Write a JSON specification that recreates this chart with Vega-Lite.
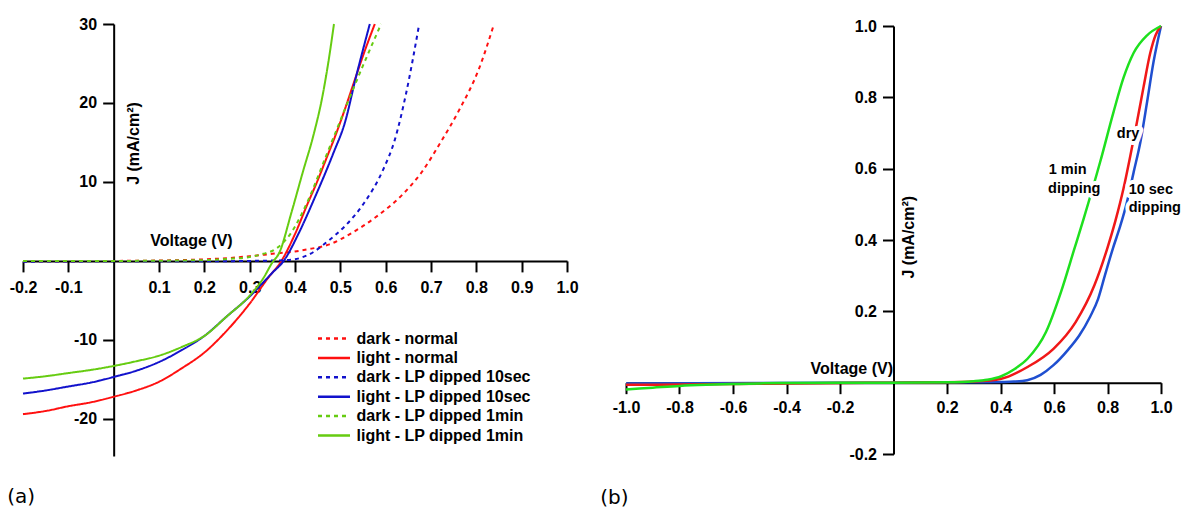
{
  "$schema": "https://vega.github.io/schema/vega-lite/v6.json",
  "background": "white",
  "padding": {"left": 7, "top": 16, "right": 0, "bottom": 20},
  "bounds": "flush",
  "center": true,
  "spacing": 59,
  "resolve": {
    "scale": {"color": "independent", "strokeDash": "independent"},
    "legend": {"color": "independent", "strokeDash": "independent"}
  },
  "config": {
    "view": {"stroke": null},
    "font": "Liberation Sans",
    "axis": {
      "grid": false,
      "domainColor": "black",
      "domainWidth": 2,
      "tickColor": "black",
      "tickWidth": 2,
      "tickSize": 11,
      "labelFont": "Liberation Sans",
      "labelFontWeight": "bold",
      "labelFontSize": 16,
      "labelColor": "black",
      "labelFlush": false,
      "labelOverlap": false,
      "labelBound": false,
      "labelExpr": "replace(datum.label, '\u2212', '-')",
      "titleFont": "Liberation Sans",
      "titleFontWeight": "bold",
      "titleFontSize": 16,
      "titleColor": "black"
    }
  },
  "datasets": {
    "a": [
      {"series": "dark - normal", "V": -0.2, "J": -0.05},
      {"series": "dark - normal", "V": 0.0, "J": 0.0},
      {"series": "dark - normal", "V": 0.1, "J": 0.05},
      {"series": "dark - normal", "V": 0.2, "J": 0.2},
      {"series": "dark - normal", "V": 0.25, "J": 0.35},
      {"series": "dark - normal", "V": 0.3, "J": 0.6},
      {"series": "dark - normal", "V": 0.35, "J": 0.9},
      {"series": "dark - normal", "V": 0.4, "J": 1.2},
      {"series": "dark - normal", "V": 0.426, "J": 1.45},
      {"series": "dark - normal", "V": 0.476, "J": 2.1},
      {"series": "dark - normal", "V": 0.527, "J": 3.6},
      {"series": "dark - normal", "V": 0.577, "J": 5.5},
      {"series": "dark - normal", "V": 0.637, "J": 8.4},
      {"series": "dark - normal", "V": 0.679, "J": 11.2},
      {"series": "dark - normal", "V": 0.721, "J": 15.0},
      {"series": "dark - normal", "V": 0.763, "J": 19.2},
      {"series": "dark - normal", "V": 0.805, "J": 24.2},
      {"series": "dark - normal", "V": 0.839, "J": 30.0},

      {"series": "light - normal", "V": -0.2, "J": -19.4},
      {"series": "light - normal", "V": -0.15, "J": -19.0},
      {"series": "light - normal", "V": -0.1, "J": -18.4},
      {"series": "light - normal", "V": -0.05, "J": -17.9},
      {"series": "light - normal", "V": 0.0, "J": -17.2},
      {"series": "light - normal", "V": 0.05, "J": -16.4},
      {"series": "light - normal", "V": 0.1, "J": -15.3},
      {"series": "light - normal", "V": 0.15, "J": -13.6},
      {"series": "light - normal", "V": 0.2, "J": -11.6},
      {"series": "light - normal", "V": 0.25, "J": -8.8},
      {"series": "light - normal", "V": 0.3, "J": -5.4},
      {"series": "light - normal", "V": 0.34, "J": -2.2},
      {"series": "light - normal", "V": 0.37, "J": 0.0},
      {"series": "light - normal", "V": 0.4, "J": 3.4},
      {"series": "light - normal", "V": 0.426, "J": 7.0},
      {"series": "light - normal", "V": 0.45, "J": 10.2},
      {"series": "light - normal", "V": 0.468, "J": 12.8},
      {"series": "light - normal", "V": 0.49, "J": 16.0},
      {"series": "light - normal", "V": 0.51, "J": 19.2},
      {"series": "light - normal", "V": 0.53, "J": 22.6},
      {"series": "light - normal", "V": 0.552, "J": 26.3},
      {"series": "light - normal", "V": 0.576, "J": 30.0},

      {"series": "dark - LP dipped 10sec", "V": -0.2, "J": -0.1},
      {"series": "dark - LP dipped 10sec", "V": 0.0, "J": -0.05},
      {"series": "dark - LP dipped 10sec", "V": 0.2, "J": -0.05},
      {"series": "dark - LP dipped 10sec", "V": 0.3, "J": 0.0},
      {"series": "dark - LP dipped 10sec", "V": 0.35, "J": 0.05},
      {"series": "dark - LP dipped 10sec", "V": 0.38, "J": 0.1},
      {"series": "dark - LP dipped 10sec", "V": 0.41, "J": 0.35},
      {"series": "dark - LP dipped 10sec", "V": 0.44, "J": 1.1},
      {"series": "dark - LP dipped 10sec", "V": 0.468, "J": 2.3},
      {"series": "dark - LP dipped 10sec", "V": 0.51, "J": 4.4},
      {"series": "dark - LP dipped 10sec", "V": 0.552, "J": 7.3},
      {"series": "dark - LP dipped 10sec", "V": 0.594, "J": 11.5},
      {"series": "dark - LP dipped 10sec", "V": 0.62, "J": 15.3},
      {"series": "dark - LP dipped 10sec", "V": 0.645, "J": 21.2},
      {"series": "dark - LP dipped 10sec", "V": 0.674, "J": 30.0},

      {"series": "light - LP dipped 10sec", "V": -0.2, "J": -16.8},
      {"series": "light - LP dipped 10sec", "V": -0.15, "J": -16.4},
      {"series": "light - LP dipped 10sec", "V": -0.1, "J": -15.9},
      {"series": "light - LP dipped 10sec", "V": -0.05, "J": -15.4},
      {"series": "light - LP dipped 10sec", "V": 0.0, "J": -14.7},
      {"series": "light - LP dipped 10sec", "V": 0.05, "J": -13.9},
      {"series": "light - LP dipped 10sec", "V": 0.1, "J": -12.8},
      {"series": "light - LP dipped 10sec", "V": 0.15, "J": -11.3},
      {"series": "light - LP dipped 10sec", "V": 0.2, "J": -9.5},
      {"series": "light - LP dipped 10sec", "V": 0.25, "J": -7.0},
      {"series": "light - LP dipped 10sec", "V": 0.3, "J": -4.5},
      {"series": "light - LP dipped 10sec", "V": 0.35, "J": -1.5},
      {"series": "light - LP dipped 10sec", "V": 0.375, "J": 0.0},
      {"series": "light - LP dipped 10sec", "V": 0.409, "J": 3.6},
      {"series": "light - LP dipped 10sec", "V": 0.442, "J": 7.8},
      {"series": "light - LP dipped 10sec", "V": 0.485, "J": 13.7},
      {"series": "light - LP dipped 10sec", "V": 0.51, "J": 17.5},
      {"series": "light - LP dipped 10sec", "V": 0.535, "J": 23.4},
      {"series": "light - LP dipped 10sec", "V": 0.565, "J": 30.0},

      {"series": "dark - LP dipped 1min", "V": -0.2, "J": 0.0},
      {"series": "dark - LP dipped 1min", "V": 0.0, "J": 0.0},
      {"series": "dark - LP dipped 1min", "V": 0.2, "J": 0.1},
      {"series": "dark - LP dipped 1min", "V": 0.25, "J": 0.25},
      {"series": "dark - LP dipped 1min", "V": 0.3, "J": 0.5},
      {"series": "dark - LP dipped 1min", "V": 0.33, "J": 0.9},
      {"series": "dark - LP dipped 1min", "V": 0.354, "J": 1.4},
      {"series": "dark - LP dipped 1min", "V": 0.392, "J": 3.6},
      {"series": "dark - LP dipped 1min", "V": 0.426, "J": 7.3},
      {"series": "dark - LP dipped 1min", "V": 0.468, "J": 13.2},
      {"series": "dark - LP dipped 1min", "V": 0.51, "J": 19.2},
      {"series": "dark - LP dipped 1min", "V": 0.552, "J": 25.0},
      {"series": "dark - LP dipped 1min", "V": 0.59, "J": 30.0},

      {"series": "light - LP dipped 1min", "V": -0.2, "J": -14.9},
      {"series": "light - LP dipped 1min", "V": -0.15, "J": -14.6},
      {"series": "light - LP dipped 1min", "V": -0.1, "J": -14.2},
      {"series": "light - LP dipped 1min", "V": -0.05, "J": -13.8},
      {"series": "light - LP dipped 1min", "V": 0.0, "J": -13.3},
      {"series": "light - LP dipped 1min", "V": 0.05, "J": -12.7},
      {"series": "light - LP dipped 1min", "V": 0.1, "J": -12.0},
      {"series": "light - LP dipped 1min", "V": 0.15, "J": -10.9},
      {"series": "light - LP dipped 1min", "V": 0.2, "J": -9.5},
      {"series": "light - LP dipped 1min", "V": 0.25, "J": -7.0},
      {"series": "light - LP dipped 1min", "V": 0.3, "J": -4.4},
      {"series": "light - LP dipped 1min", "V": 0.33, "J": -2.2},
      {"series": "light - LP dipped 1min", "V": 0.35, "J": -0.2},
      {"series": "light - LP dipped 1min", "V": 0.365, "J": 1.0},
      {"series": "light - LP dipped 1min", "V": 0.392, "J": 6.1},
      {"series": "light - LP dipped 1min", "V": 0.417, "J": 11.2},
      {"series": "light - LP dipped 1min", "V": 0.442, "J": 16.2},
      {"series": "light - LP dipped 1min", "V": 0.459, "J": 20.4},
      {"series": "light - LP dipped 1min", "V": 0.472, "J": 24.6},
      {"series": "light - LP dipped 1min", "V": 0.486, "J": 30.0}
    ],
    "b": [
      {"series": "10 sec dipping", "V": -1.0, "J": -0.002},
      {"series": "10 sec dipping", "V": -0.5, "J": -0.001},
      {"series": "10 sec dipping", "V": 0.0, "J": 0.0},
      {"series": "10 sec dipping", "V": 0.3, "J": 0.001},
      {"series": "10 sec dipping", "V": 0.4, "J": 0.002},
      {"series": "10 sec dipping", "V": 0.45, "J": 0.003},
      {"series": "10 sec dipping", "V": 0.5, "J": 0.007},
      {"series": "10 sec dipping", "V": 0.55, "J": 0.022},
      {"series": "10 sec dipping", "V": 0.598, "J": 0.049},
      {"series": "10 sec dipping", "V": 0.65, "J": 0.09},
      {"series": "10 sec dipping", "V": 0.695, "J": 0.133},
      {"series": "10 sec dipping", "V": 0.735, "J": 0.185},
      {"series": "10 sec dipping", "V": 0.765, "J": 0.235},
      {"series": "10 sec dipping", "V": 0.79, "J": 0.3},
      {"series": "10 sec dipping", "V": 0.82, "J": 0.376},
      {"series": "10 sec dipping", "V": 0.848, "J": 0.44},
      {"series": "10 sec dipping", "V": 0.873, "J": 0.507},
      {"series": "10 sec dipping", "V": 0.898, "J": 0.591},
      {"series": "10 sec dipping", "V": 0.923, "J": 0.675},
      {"series": "10 sec dipping", "V": 0.948, "J": 0.787},
      {"series": "10 sec dipping", "V": 0.972, "J": 0.899},
      {"series": "10 sec dipping", "V": 1.0, "J": 1.0},

      {"series": "dry", "V": -1.0, "J": -0.006},
      {"series": "dry", "V": -0.6, "J": -0.004},
      {"series": "dry", "V": -0.4, "J": -0.002},
      {"series": "dry", "V": -0.2, "J": -0.001},
      {"series": "dry", "V": 0.0, "J": 0.0},
      {"series": "dry", "V": 0.2, "J": 0.001},
      {"series": "dry", "V": 0.3, "J": 0.003},
      {"series": "dry", "V": 0.403, "J": 0.011},
      {"series": "dry", "V": 0.501, "J": 0.044},
      {"series": "dry", "V": 0.598, "J": 0.095},
      {"series": "dry", "V": 0.681, "J": 0.17},
      {"series": "dry", "V": 0.751, "J": 0.273},
      {"series": "dry", "V": 0.799, "J": 0.376},
      {"series": "dry", "V": 0.83, "J": 0.455},
      {"series": "dry", "V": 0.86, "J": 0.545},
      {"series": "dry", "V": 0.885, "J": 0.635},
      {"series": "dry", "V": 0.91, "J": 0.73},
      {"series": "dry", "V": 0.935, "J": 0.83},
      {"series": "dry", "V": 0.96, "J": 0.925},
      {"series": "dry", "V": 0.98, "J": 0.975},
      {"series": "dry", "V": 1.0, "J": 1.0},

      {"series": "1 min dipping", "V": -1.0, "J": -0.019},
      {"series": "1 min dipping", "V": -0.9, "J": -0.014},
      {"series": "1 min dipping", "V": -0.8, "J": -0.009},
      {"series": "1 min dipping", "V": -0.7, "J": -0.006},
      {"series": "1 min dipping", "V": -0.6, "J": -0.004},
      {"series": "1 min dipping", "V": -0.5, "J": -0.002},
      {"series": "1 min dipping", "V": -0.4, "J": -0.001},
      {"series": "1 min dipping", "V": 0.0, "J": 0.0},
      {"series": "1 min dipping", "V": 0.2, "J": 0.001},
      {"series": "1 min dipping", "V": 0.3, "J": 0.004},
      {"series": "1 min dipping", "V": 0.35, "J": 0.008},
      {"series": "1 min dipping", "V": 0.403, "J": 0.018},
      {"series": "1 min dipping", "V": 0.45, "J": 0.037},
      {"series": "1 min dipping", "V": 0.501, "J": 0.067},
      {"series": "1 min dipping", "V": 0.57, "J": 0.142},
      {"series": "1 min dipping", "V": 0.626, "J": 0.254},
      {"series": "1 min dipping", "V": 0.674, "J": 0.37},
      {"series": "1 min dipping", "V": 0.711, "J": 0.46},
      {"series": "1 min dipping", "V": 0.773, "J": 0.62},
      {"series": "1 min dipping", "V": 0.823, "J": 0.76},
      {"series": "1 min dipping", "V": 0.86, "J": 0.855},
      {"series": "1 min dipping", "V": 0.898, "J": 0.925},
      {"series": "1 min dipping", "V": 0.948, "J": 0.974},
      {"series": "1 min dipping", "V": 1.0, "J": 1.0}
    ],
    "bt": [
      {"V": 0.835, "J": 0.698, "t": "dry"},
      {"V": 0.58, "J": 0.595, "t": "1 min"},
      {"V": 0.578, "J": 0.544, "t": "dipping"},
      {"V": 0.879, "J": 0.539, "t": "10 sec"},
      {"V": 0.879, "J": 0.49, "t": "dipping"}
    ]
  },
  "hconcat": [
    {
      "width": 544,
      "height": 432,
      "title": {"text": "(a)", "orient": "bottom", "anchor": "start", "frame": "group", "offset": 31, "dx": -15.7, "font": "DejaVu Sans", "fontSize": 20, "fontWeight": "normal", "color": "black"},
      "data": {"name": "a"},
      "mark": {"type": "line", "strokeWidth": 2, "interpolate": "monotone"},
      "encoding": {
        "x": {
          "field": "V", "type": "quantitative",
          "scale": {"domain": [-0.2, 1.0], "nice": false, "zero": false},
          "axis": {"orient": "bottom", "offset": -195.1, "values": [-0.2, -0.1, 0.1, 0.2, 0.3, 0.4, 0.5, 0.6, 0.7, 0.8, 0.9, 1.0], "format": ".1f", "labelPadding": 8, "title": "Voltage (V)", "titleX": 168, "titleY": -20, "titleBaseline": "middle", "titleAlign": "center"}
        },
        "y": {
          "field": "J", "type": "quantitative",
          "scale": {"domain": [-24.7, 30], "nice": false, "zero": false},
          "axis": {"orient": "left", "offset": -90.67, "values": [-20, -10, 10, 20, 30], "format": "d", "labelPadding": 6, "title": "J (mA/cm²)", "titleX": 20, "titleY": 119, "titleAngle": -90, "titleBaseline": "middle", "titleAlign": "center"}
        },
        "color": {
          "field": "series", "type": "nominal",
          "scale": {
            "domain": ["dark - normal", "light - normal", "dark - LP dipped 10sec", "light - LP dipped 10sec", "dark - LP dipped 1min", "light - LP dipped 1min"],
            "range": ["#ff1010", "#ff1010", "#1212cc", "#1212cc", "#66cc11", "#66cc11"]
          },
          "legend": {"title": null, "orient": "none", "legendX": 293.5, "legendY": 305, "symbolType": "M-1,0H3", "symbolSize": 256, "symbolStrokeWidth": 2.5, "labelFont": "Liberation Sans", "labelFontWeight": "bold", "labelFontSize": 16, "labelColor": "black", "labelOffset": 21, "rowPadding": 1.4, "padding": 0, "labelLimit": 400}
        },
        "strokeDash": {
          "field": "series", "type": "nominal",
          "scale": {
            "domain": ["dark - normal", "light - normal", "dark - LP dipped 10sec", "light - LP dipped 10sec", "dark - LP dipped 1min", "light - LP dipped 1min"],
            "range": [[4, 4], [1, 0], [4, 4], [1, 0], [4, 4], [1, 0]]
          },
          "legend": {"title": null, "orient": "none", "legendX": 293.5, "legendY": 305, "symbolType": "M-1,0H3", "symbolSize": 256, "symbolStrokeWidth": 2.5, "labelFont": "Liberation Sans", "labelFontWeight": "bold", "labelFontSize": 16, "labelColor": "black", "labelOffset": 21, "rowPadding": 1.4, "padding": 0, "labelLimit": 400}
        }
      }
    },
    {
      "width": 535,
      "height": 428,
      "title": {"text": "(b)", "orient": "bottom", "anchor": "start", "frame": "group", "offset": 26, "dx": -25.7, "font": "DejaVu Sans", "fontSize": 20, "fontWeight": "normal", "color": "black"},
      "layer": [
        {
          "data": {"name": "b"},
          "mark": {"type": "line", "strokeWidth": 2.5, "interpolate": "monotone"},
          "encoding": {
            "x": {
              "field": "V", "type": "quantitative",
              "scale": {"domain": [-1.0, 1.0], "nice": false, "zero": false},
              "axis": {"orient": "bottom", "offset": -71.33, "values": [-1.0, -0.8, -0.6, -0.4, -0.2, 0.2, 0.4, 0.6, 0.8, 1.0], "format": ".1f", "labelPadding": 6, "title": "Voltage (V)", "titleX": 225.3, "titleY": -14, "titleBaseline": "middle", "titleAlign": "center"}
            },
            "y": {
              "field": "J", "type": "quantitative",
              "scale": {"domain": [-0.2, 1.0], "nice": false, "zero": false},
              "axis": {"orient": "left", "offset": -267.5, "values": [-0.2, 0.2, 0.4, 0.6, 0.8, 1.0], "format": ".1f", "labelPadding": 6, "title": "J (mA/cm²)", "titleX": 15.3, "titleY": 210.7, "titleAngle": -90, "titleBaseline": "middle", "titleAlign": "center"}
            },
            "color": {
              "field": "series", "type": "nominal",
              "scale": {"domain": ["10 sec dipping", "1 min dipping", "dry"], "range": ["#1f4fd0", "#1ee01e", "#f01818"]},
              "legend": null
            }
          }
        },
        {
          "data": {"name": "bt"},
          "mark": {"type": "text", "align": "left", "baseline": "middle", "font": "Liberation Sans", "fontWeight": "bold", "fontSize": 14.5, "stroke": "white", "strokeWidth": 8, "fill": "white", "strokeJoin": "round"},
          "encoding": {
            "x": {"field": "V", "type": "quantitative"},
            "y": {"field": "J", "type": "quantitative"},
            "text": {"field": "t"}
          }
        },
        {
          "data": {"name": "bt"},
          "mark": {"type": "text", "align": "left", "baseline": "middle", "font": "Liberation Sans", "fontWeight": "bold", "fontSize": 14.5, "fill": "black"},
          "encoding": {
            "x": {"field": "V", "type": "quantitative"},
            "y": {"field": "J", "type": "quantitative"},
            "text": {"field": "t"}
          }
        }
      ]
    }
  ]
}
